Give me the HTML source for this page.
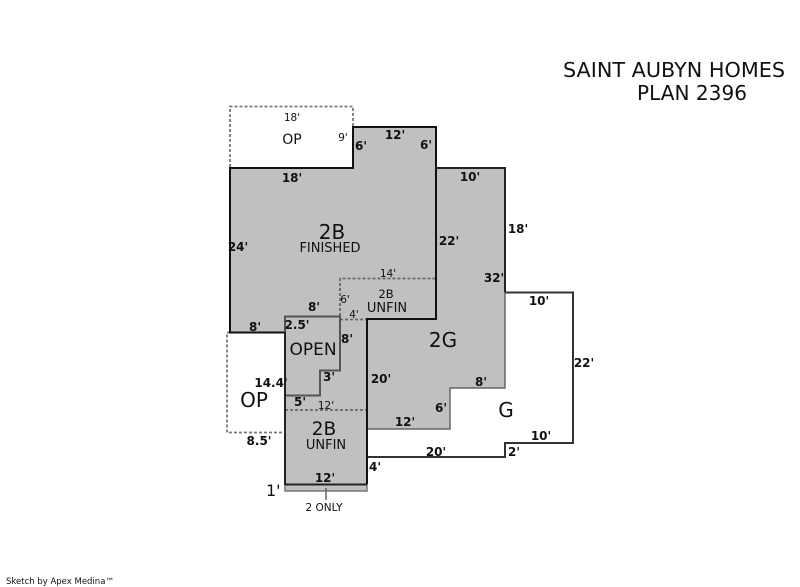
<!DOCTYPE html>
<html><head><meta charset="utf-8"><style>
html,body{margin:0;padding:0;background:#fff;width:800px;height:587px;overflow:hidden}
svg{display:block}
text{font-family:"DejaVu Sans",sans-serif;fill:#111}
.b{font-weight:bold;font-size:12px;text-anchor:middle}
.s{font-size:10.500px;text-anchor:middle}
.m{font-size:13px;text-anchor:middle}
.l{font-size:20px;text-anchor:middle}
</style></head><body>
<svg width="800" height="587" viewBox="0 0 800 587" xmlns="http://www.w3.org/2000/svg">
<polygon points="230,168 353,168 353,127 436,127 436,168 505,168 505,388 450,388 450,429 367,429 367,491 285,491 285,332 230,332" fill="#c0c0c0"/>
<g fill="none">
<path d="M230,167V106.500H353V127" stroke="#777" stroke-width="1.800" stroke-dasharray="3 2"/>
<path d="M285,332.500H227V432.500H285" stroke="#777" stroke-width="1.800" stroke-dasharray="3 2"/>
<path d="M340,316V278.500H436M340,319.500H367M285,410H367" stroke="#666" stroke-width="1.800" stroke-dasharray="3 2"/>
<path d="M505,292V388H450V429H367" stroke="#666" stroke-width="1.500"/>
<path d="M285,395.500H320V370.500H340V316.500H285V332" stroke="#555" stroke-width="2"/>
<path d="M285,484.500V491H367V484" stroke="#777" stroke-width="1.500"/>
<path d="M326,488V500" stroke="#666" stroke-width="1.500"/>
<path d="M505,292.500H573V443H505V457H367" stroke="#333" stroke-width="2"/>
<path d="M285,484.500H367" stroke="#222" stroke-width="2"/>
<path d="M285,332.500H230V168H353V127H436V319H367V484" stroke="#111" stroke-width="2"/>
<path d="M285,332V485" stroke="#222" stroke-width="2"/>
<path d="M436,168H505V292" stroke="#222" stroke-width="2"/>
</g>
<text x="563" y="77" font-size="20.500" textLength="222" lengthAdjust="spacingAndGlyphs">SAINT AUBYN HOMES</text>
<text x="637" y="100" font-size="20.500" textLength="110" lengthAdjust="spacingAndGlyphs">PLAN 2396</text>
<text class="s" x="292" y="121">18'</text>
<text class="m" x="292" y="144" style="font-size:14px">OP</text>
<text class="s" x="343" y="141">9'</text>
<text class="b" x="395" y="139">12'</text>
<text class="b" x="361" y="150">6'</text>
<text class="b" x="426" y="149">6'</text>
<text class="b" x="292" y="182">18'</text>
<text class="b" x="470" y="181">10'</text>
<text class="b" x="518" y="233">18'</text>
<text class="l" x="332" y="239">2B</text>
<text class="m" x="330" y="252">FINISHED</text>
<text class="b" x="238" y="251">24'</text>
<text class="b" x="449" y="245">22'</text>
<text class="b" x="494" y="282">32'</text>
<text class="s" x="388" y="277">14'</text>
<text class="s" x="386" y="298" style="font-size:11.500px">2B</text>
<text class="m" x="387" y="312">UNFIN</text>
<text class="s" x="345" y="303">6'</text>
<text class="s" x="354" y="318">4'</text>
<text class="b" x="314" y="311">8'</text>
<text class="b" x="255" y="331">8'</text>
<text class="b" x="297" y="329">2.5'</text>
<text class="b" x="347" y="343">8'</text>
<text class="m" x="313" y="355" style="font-size:17px">OPEN</text>
<text class="b" x="329" y="381">3'</text>
<text class="b" x="271" y="387">14.4'</text>
<text class="l" x="254" y="407">OP</text>
<text class="b" x="300" y="406">5'</text>
<text class="s" x="326" y="409">12'</text>
<text class="l" x="443" y="347">2G</text>
<text class="b" x="381" y="383">20'</text>
<text class="b" x="481" y="386">8'</text>
<text class="b" x="441" y="412">6'</text>
<text class="b" x="405" y="426">12'</text>
<text class="l" x="506" y="417">G</text>
<text class="b" x="539" y="305">10'</text>
<text class="b" x="584" y="367">22'</text>
<text class="b" x="541" y="440">10'</text>
<text class="b" x="436" y="456">20'</text>
<text class="b" x="514" y="456">2'</text>
<text class="b" x="375" y="471">4'</text>
<text class="l" x="324" y="435" style="font-size:18.500px">2B</text>
<text class="m" x="326" y="449">UNFIN</text>
<text class="b" x="259" y="445">8.5'</text>
<text class="b" x="325" y="482">12'</text>
<text x="266" y="496" font-size="16">1'</text>
<text class="s" x="324" y="511">2 ONLY</text>
<text x="6" y="584" font-size="8.500">Sketch by Apex Medina™</text>
</svg>
</body></html>
